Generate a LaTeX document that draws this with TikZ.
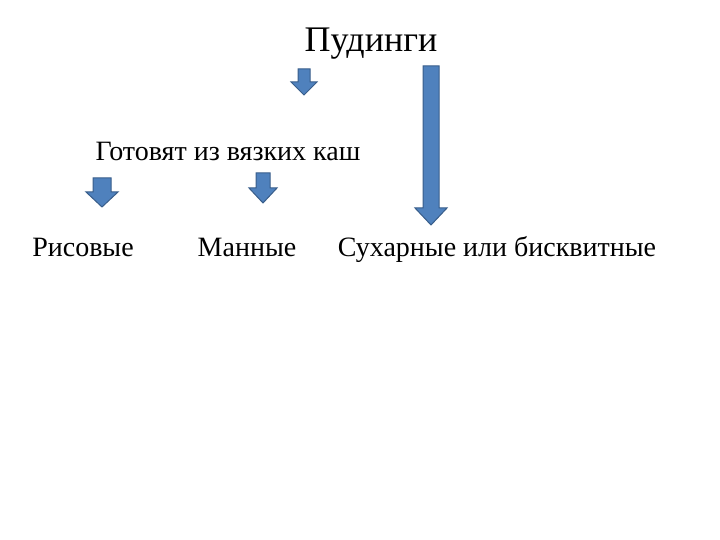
\documentclass[tikz,border=0pt]{standalone}
\usepackage{fontspec}
\setmainfont{Liberation Serif}
\definecolor{arrowfill}{HTML}{4F81BD}
\definecolor{arrowline}{HTML}{385D8A}
% block arrow pointing down: (centre x, top y, head y, tip y, half shaft, half head)
\def\downarrowblock(#1,#2,#3,#4,#5,#6){\draw[fill=arrowfill, draw=arrowline, line width=1pt, line join=miter]
	(#1-#5, #2) -- (#1+#5, #2) -- (#1+#5, #3) -- (#1+#6, #3) -- (#1, #4) -- (#1-#6, #3) -- (#1-#5, #3) -- cycle;}

\begin{document}
\begin{tikzpicture}[x=1pt, y=-1pt, kind/.style={anchor=base, font=\fontsize{28}{34}\selectfont}]
		%%%%% START %%%%%
		\useasboundingbox (0, 0) rectangle (720, 540);
		
		\node[anchor=base, font=\fontsize{36}{43}\selectfont] (title) at (371, 52) {Пудинги};
		\node[kind] (base) at (228, 161) {Готовят из вязких каш};
		
		\node[kind] (rice) at (83, 256) {Рисовые};
		\node[kind] (semo) at (247, 256) {Манные};
		\node[kind] (bisc) at (497, 256) {Сухарные или бисквитные};
		
		\downarrowblock(304, 69, 82, 95, 6, 13)
		\downarrowblock(431, 66, 208, 225, 8, 16)
		\downarrowblock(102, 178, 192, 207, 9, 16)
		\downarrowblock(263, 173, 188, 203, 7, 14)
		
		%%%%% END %%%%%
	\end{tikzpicture}
\end{document}
